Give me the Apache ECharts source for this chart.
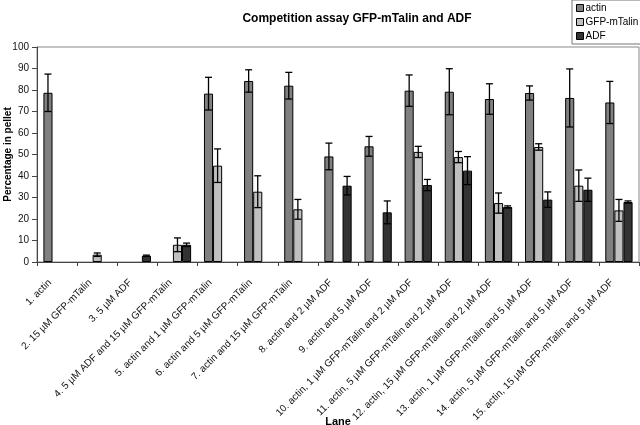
<!DOCTYPE html>
<html>
<head>
<meta charset="utf-8">
<script src="https://cdn.jsdelivr.net/npm/echarts@6/dist/echarts.min.js"></script>
<style>html,body{margin:0;padding:0;background:#fff}#c{width:640px;height:425px}</style>
</head>
<body>
<div id="c"></div>
<script>
var categories = [
  "1. actin",
  "2. 15 \u00b5M GFP-mTalin",
  "3. 5 \u00b5M ADF",
  "4. 5 \u00b5M ADF and 15 \u00b5M GFP-mTalin",
  "5. actin and 1 \u00b5M GFP-mTalin",
  "6. actin and 5 \u00b5M GFP-mTalin",
  "7. actin and 15 \u00b5M GFP-mTalin",
  "8. actin and 2 \u00b5M ADF",
  "9. actin and 5 \u00b5M ADF",
  "10. actin, 1 \u00b5M GFP-mTalin and 2 \u00b5M ADF",
  "11. actin, 5 \u00b5M GFP-mTalin and 2 \u00b5M ADF",
  "12. actin, 15 \u00b5M GFP-mTalin and 2 \u00b5M ADF",
  "13. actin, 1 \u00b5M GFP-mTalin and 5 \u00b5M ADF",
  "14. actin, 5 \u00b5M GFP-mTalin and 5 \u00b5M ADF",
  "15. actin, 15 \u00b5M GFP-mTalin and 5 \u00b5M ADF"
];
var seriesNames = ["actin", "GFP-mTalin", "ADF"];
var actinVals = [78.7, null, null, null, 78.3, 84.2, 82.0, 49.1, 53.8, 79.7, 79.2, 75.8, 78.6, 76.3, 74.2];
var actinErr  = [8.7,  null, null, null, 7.6,  5.2,  6.2,  6.2,  4.6,  7.3,  10.7, 7.1,  3.3,  13.5, 9.8];
var gfpVals   = [null, 3.4, null, 8.0, 44.8, 32.7, 24.5, null, null, 51.2, 48.8, 27.4, 53.5, 35.5, 24.0];
var gfpErr    = [null, 0.8, null, 3.2, 7.8,  7.4,  4.6,  null, null, 2.6,  2.6,  4.7,  1.5,  7.3,  5.1];
var adfVals   = [null, null, 2.9, 8.0, null, null, null, 35.5, 23.1, 35.8, 42.5, 25.6, 29.0, 33.6, 27.9];
var adfErr    = [null, null, 0.3, 0.8, null, null, null, 4.3,  5.3,  2.6,  6.5,  0.5,  3.6,  5.4,  0.5];
var yMin = 0, yMax = 100, yStep = 10;

var colors = ["#808080", "#c0c0c0", "#333333"];
var vals = [actinVals, gfpVals, adfVals];
var errs = [actinErr, gfpErr, adfErr];
var gapFrac = 0.32;

var chart = echarts.init(document.getElementById('c'), null, {renderer: 'canvas'});
var font = "'Liberation Sans', Arial, sans-serif";

function errSeries(idx) {
  var data = [];
  for (var i = 0; i < categories.length; i++) {
    if (vals[idx][i] != null && errs[idx][i] != null) {
      data.push([i, vals[idx][i], errs[idx][i]]);
    }
  }
  return {
    type: 'custom',
    name: seriesNames[idx] + ' err',
    z: 10,
    silent: true,
    data: data,
    encode: {x: 0, y: 1},
    renderItem: function (params, api) {
      var x = api.value(0), v = api.value(1), e = api.value(2);
      var band = api.size([1, 0])[0];
      var bw = band * (1 - gapFrac) / 3;
      var off = (idx - 1) * bw;
      var hi = api.coord([x, v + e]);
      var lo = api.coord([x, v - e]);
      var cx = hi[0] + off;
      var cap = 3.5;
      var st = {stroke: '#000', lineWidth: 1.3};
      return {
        type: 'group',
        children: [
          {type: 'line', shape: {x1: cx, y1: hi[1], x2: cx, y2: lo[1]}, style: st},
          {type: 'line', shape: {x1: cx - cap, y1: hi[1], x2: cx + cap, y2: hi[1]}, style: st},
          {type: 'line', shape: {x1: cx - cap, y1: lo[1], x2: cx + cap, y2: lo[1]}, style: st}
        ]
      };
    }
  };
}

var series = [];
for (var s = 0; s < 3; s++) {
  series.push({
    type: 'bar',
    name: seriesNames[s],
    data: vals[s],
    barGap: '0%',
    barCategoryGap: (gapFrac * 100) + '%',
    itemStyle: {color: colors[s], borderColor: '#000', borderWidth: 1},
    emphasis: {disabled: true}
  });
}
for (var s2 = 0; s2 < 3; s2++) series.push(errSeries(s2));

chart.setOption({
  animation: false,
  backgroundColor: '#fff',
  title: {
    text: 'Competition assay GFP-mTalin and ADF',
    left: 352, top: 8, textAlign: 'center',
    textStyle: {fontFamily: font, fontSize: 12, fontWeight: 'bold', color: '#000'}
  },
  legend: {
    data: seriesNames,
    orient: 'vertical',
    left: 572, top: 0,
    width: 68,
    padding: [3, 4, 3, 4],
    itemGap: 4,
    itemWidth: 7, itemHeight: 7,
    icon: 'rect',
    itemStyle: {borderColor: '#000', borderWidth: 1},
    borderColor: '#777', borderWidth: 1,
    backgroundColor: '#fff',
    textStyle: {fontFamily: font, fontSize: 10, color: '#000', padding: [0, 0, 0, -3]}
  },
  grid: {
    left: 37, right: 1, top: 47, bottom: 163,
    outerBoundsMode: 'none',
    containLabel: false,
    show: true, borderColor: '#888', borderWidth: 1, backgroundColor: 'transparent'
  },
  xAxis: {
    type: 'category',
    data: categories,
    name: 'Lane',
    nameLocation: 'middle',
    nameGap: 154,
    nameMoveOverlap: false,
    nameTextStyle: {fontFamily: font, fontSize: 11, fontWeight: 'bold', color: '#000'},
    axisLine: {lineStyle: {color: '#444', width: 1}},
    axisTick: {show: true, length: 4, lineStyle: {color: '#444'}},
    axisLabel: {rotate: 45, interval: 0, margin: 12, padding: [0, 10, 0, 0], fontFamily: font, fontSize: 10, color: '#111'},
    splitLine: {show: false}
  },
  yAxis: {
    type: 'value',
    min: yMin, max: yMax, interval: yStep,
    name: 'Percentage in pellet',
    nameLocation: 'middle',
    nameGap: 24,
    nameMoveOverlap: false,
    nameTextStyle: {fontFamily: font, fontSize: 10, fontWeight: 'bold', color: '#000'},
    axisLine: {show: true, lineStyle: {color: '#444', width: 1}},
    axisTick: {show: true, length: 5, lineStyle: {color: '#444'}},
    axisLabel: {margin: 8, fontFamily: font, fontSize: 10, color: '#111'},
    splitLine: {show: false}
  },
  series: series
});
</script>
</body>
</html>
